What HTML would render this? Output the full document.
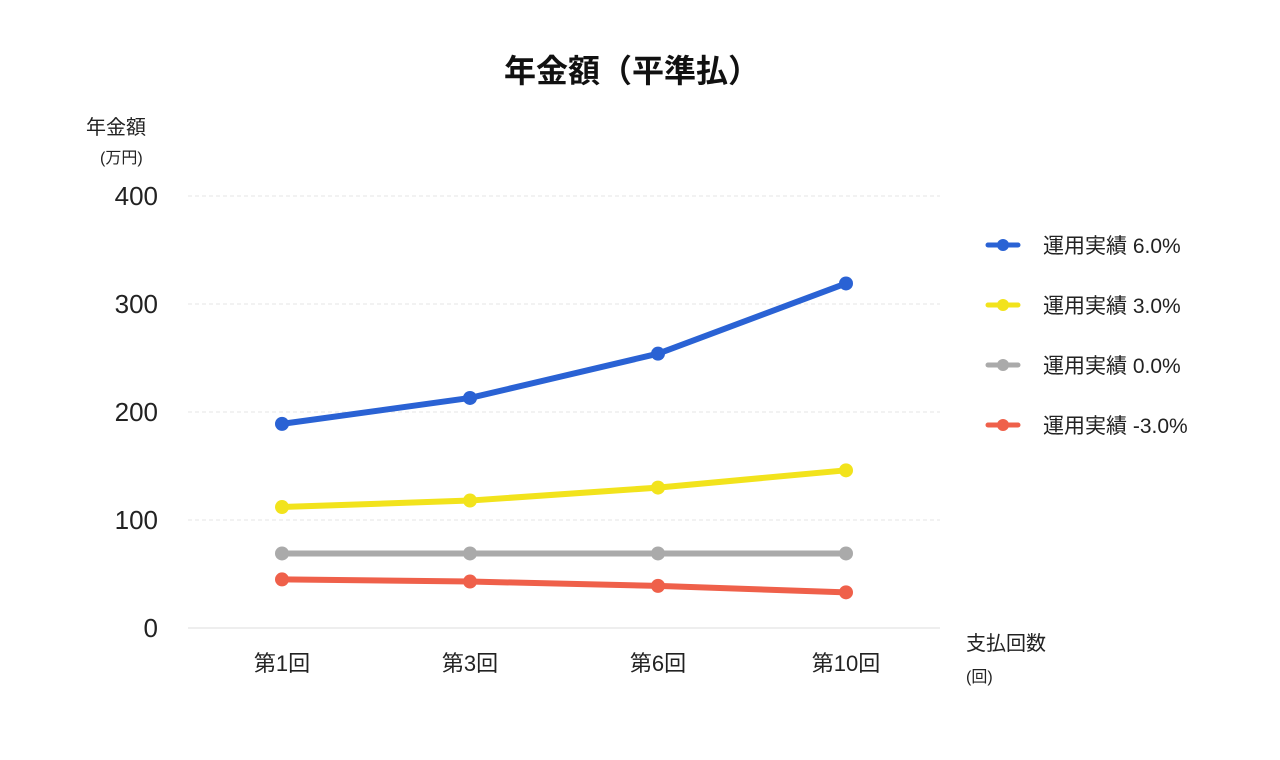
<!DOCTYPE html>
<html lang="ja"><head><meta charset="utf-8">
<style>
body{margin:0;background:#fff;}
svg{display:block;font-family:"Liberation Sans","Noto Sans CJK JP",sans-serif;}
</style></head>
<body>
<svg id="chart" width="1280" height="760">
<text x="632" y="82" text-anchor="middle" font-size="32" font-weight="bold" fill="#111">年金額（平準払）</text>
<text x="86" y="134" font-size="20" fill="#222">年金額</text>
<text x="100" y="163" font-size="16" fill="#222">(万円)</text>
<text x="966" y="650" font-size="20" fill="#222">支払回数</text>
<text x="966" y="682" font-size="16" fill="#222">(回)</text>
<g id="grid"></g><g id="yticks"></g><g id="xticks"></g><g id="series"></g><g id="legend"></g>
</svg>
<script>
const categories=["第1回","第3回","第6回","第10回"];
const yTicks=[0,100,200,300,400];
const seriesNames=["運用実績 6.0%","運用実績 3.0%","運用実績 0.0%","運用実績 -3.0%"];
const s60=[189,213,254,319];
const s30=[112,118,130,146];
const s00=[69,69,69,69];
const sm30=[45,43,39,33];
const colors=["#2a62d4","#f2e31c","#aaaaaa","#ef604a"];
const allSeries=[s60,s30,s00,sm30];
const NS="http://www.w3.org/2000/svg";
const x0=188,x1=940,yBase=628,yTop=196,yMax=400;
const yS=v=>yBase-(v/yMax)*(yBase-yTop);
const bw=(x1-x0)/categories.length;
const xS=i=>x0+bw*(i+0.5);
function mk(tag,attrs,parent){const e=document.createElementNS(NS,tag);for(const k in attrs)e.setAttribute(k,attrs[k]);parent.appendChild(e);return e;}
const grid=document.getElementById('grid'),yt=document.getElementById('yticks'),xt=document.getElementById('xticks'),sg=document.getElementById('series'),lg=document.getElementById('legend');
yTicks.forEach(v=>{
 const l=mk('line',{x1:x0,x2:x1,y1:yS(v),y2:yS(v),stroke:v===0?'#ddd':'#e4e4e4','stroke-dasharray':v===0?'':'4,3'},grid);
 
 
 const t=mk('text',{x:158,y:yS(v)+9,'text-anchor':'end','font-size':26,fill:'#222'},yt);
 t.textContent=v;
 
 
});
categories.forEach((c,i)=>{
 const t=mk('text',{x:xS(i),y:671,'text-anchor':'middle','font-size':22,fill:'#222'},xt);
 t.textContent=c;
 
 
});
allSeries.forEach((d,si)=>{
 const g=mk('g',{},sg);
 
 
 const p=mk('polyline',{points:d.map((v,i)=>xS(i)+','+yS(v)).join(' '),fill:'none',stroke:colors[si],'stroke-width':6,'stroke-linejoin':'round'},g);
 
 
 d.forEach((v,i)=>{
  const c=mk('circle',{cx:xS(i),cy:yS(v),r:7,fill:colors[si]},g);
  
  
 });
 const ly=245+si*60;
 const lgI=mk('g',{},lg);
 
 
 mk('line',{x1:988,x2:1018,y1:ly,y2:ly,stroke:colors[si],'stroke-width':5,'stroke-linecap':'round'},lgI);
 mk('circle',{cx:1003,cy:ly,r:6,fill:colors[si]},lgI);
 const t=mk('text',{x:1043,y:ly+8,'font-size':21,fill:'#222'},lgI);
 t.textContent=seriesNames[si];
});
</script>
</body></html>
